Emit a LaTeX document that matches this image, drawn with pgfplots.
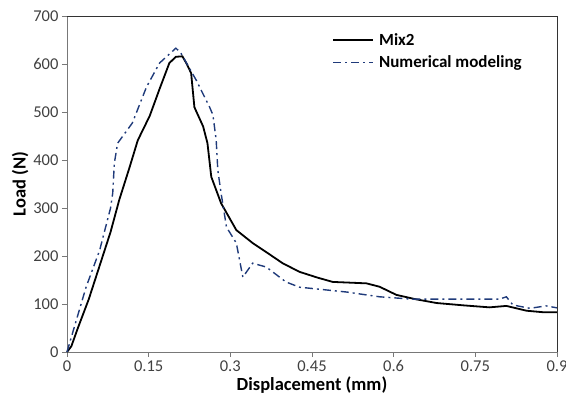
\documentclass[border=0pt]{standalone}
\usepackage{pgfplots}
\pgfplotsset{compat=1.18}
\usepackage{fontspec}
\setmainfont{Carlito}
\definecolor{numblue}{RGB}{31,58,122}
\definecolor{axgray}{RGB}{120,120,120}
\begin{document}
\begin{tikzpicture}[x=1pt,y=1pt]
\begin{axis}[
  at={(0,0)}, anchor=south west,
  scale only axis, width=490pt, height=336pt,
  xmin=0, xmax=0.9, ymin=0, ymax=700,
  xtick={0,0.15,0.3,0.45,0.6,0.75,0.9},
  xticklabels={0,0.15,0.3,0.45,0.6,0.75,0.9},
  ytick={0,100,...,700},
  tick align=outside, tick pos=left,
  major tick length=5pt,
  every tick/.style={axgray, line width=0.8pt},
  axis line style={axgray, line width=0.8pt},
  /pgf/number format/assume math mode=true,
  ticklabel style={font=\fontsize{16.5}{18}\selectfont, text=black!75},
  xlabel={\textbf{Displacement (mm)}},
  ylabel={\textbf{Load (N)}},
  label style={font=\fontsize{18.5}{20}\selectfont},
  xlabel style={yshift=2pt},
  ylabel style={yshift=-2pt},
  legend style={draw=none, fill=none, at={(0.535,0.96)}, anchor=north west,
    font=\fontsize{17}{19}\selectfont\bfseries, row sep=5pt,
    legend cell align=left, nodes={inner xsep=5pt}},
  legend image code/.code={\draw[#1] (0pt,0pt) -- (40pt,0pt);},
  clip=false,
]
\addplot[black, line width=1.8pt] coordinates {
(0,0) (0.008,12) (0.02,50) (0.04,110) (0.06,180) (0.08,250) (0.096,317)
(0.115,385) (0.130,441) (0.152,492) (0.170,548) (0.188,602) (0.200,615) (0.212,616)
(0.220,600) (0.228,581) (0.234,510) (0.250,470) (0.258,435) (0.265,365)
(0.283,310) (0.311,254) (0.341,227) (0.370,205) (0.396,185) (0.427,167)
(0.460,155) (0.488,146) (0.550,143) (0.574,136) (0.605,119) (0.640,110)
(0.679,102) (0.730,97) (0.776,93) (0.807,96) (0.844,86) (0.873,83) (0.9,83)
};
\addlegendentry{Mix2}
\addplot[numblue, line width=1.4pt, dash pattern=on 8pt off 4pt on 2pt off 4pt] coordinates {
(0,0) (0.008,31) (0.035,135) (0.060,212) (0.080,300) (0.084,331) (0.087,394)
(0.093,435) (0.120,477) (0.146,552) (0.170,602) (0.200,633) (0.209,623)
(0.237,567) (0.262,510) (0.268,494) (0.274,442) (0.277,379) (0.283,331)
(0.293,260) (0.311,227) (0.323,156) (0.341,185) (0.366,177) (0.402,146)
(0.427,135) (0.513,125) (0.574,115) (0.635,110) (0.734,110) (0.794,110)
(0.807,115) (0.819,98) (0.850,91) (0.880,96) (0.900,92)
};
\addlegendentry{Numerical modeling}
\draw[black!80, line width=0.8pt] (axis cs:0,700) -- (axis cs:0.9,700) -- (axis cs:0.9,0);
\end{axis}
\pgfresetboundingbox
\path (-67,-51) rectangle (499,352);
\end{tikzpicture}
\end{document}
